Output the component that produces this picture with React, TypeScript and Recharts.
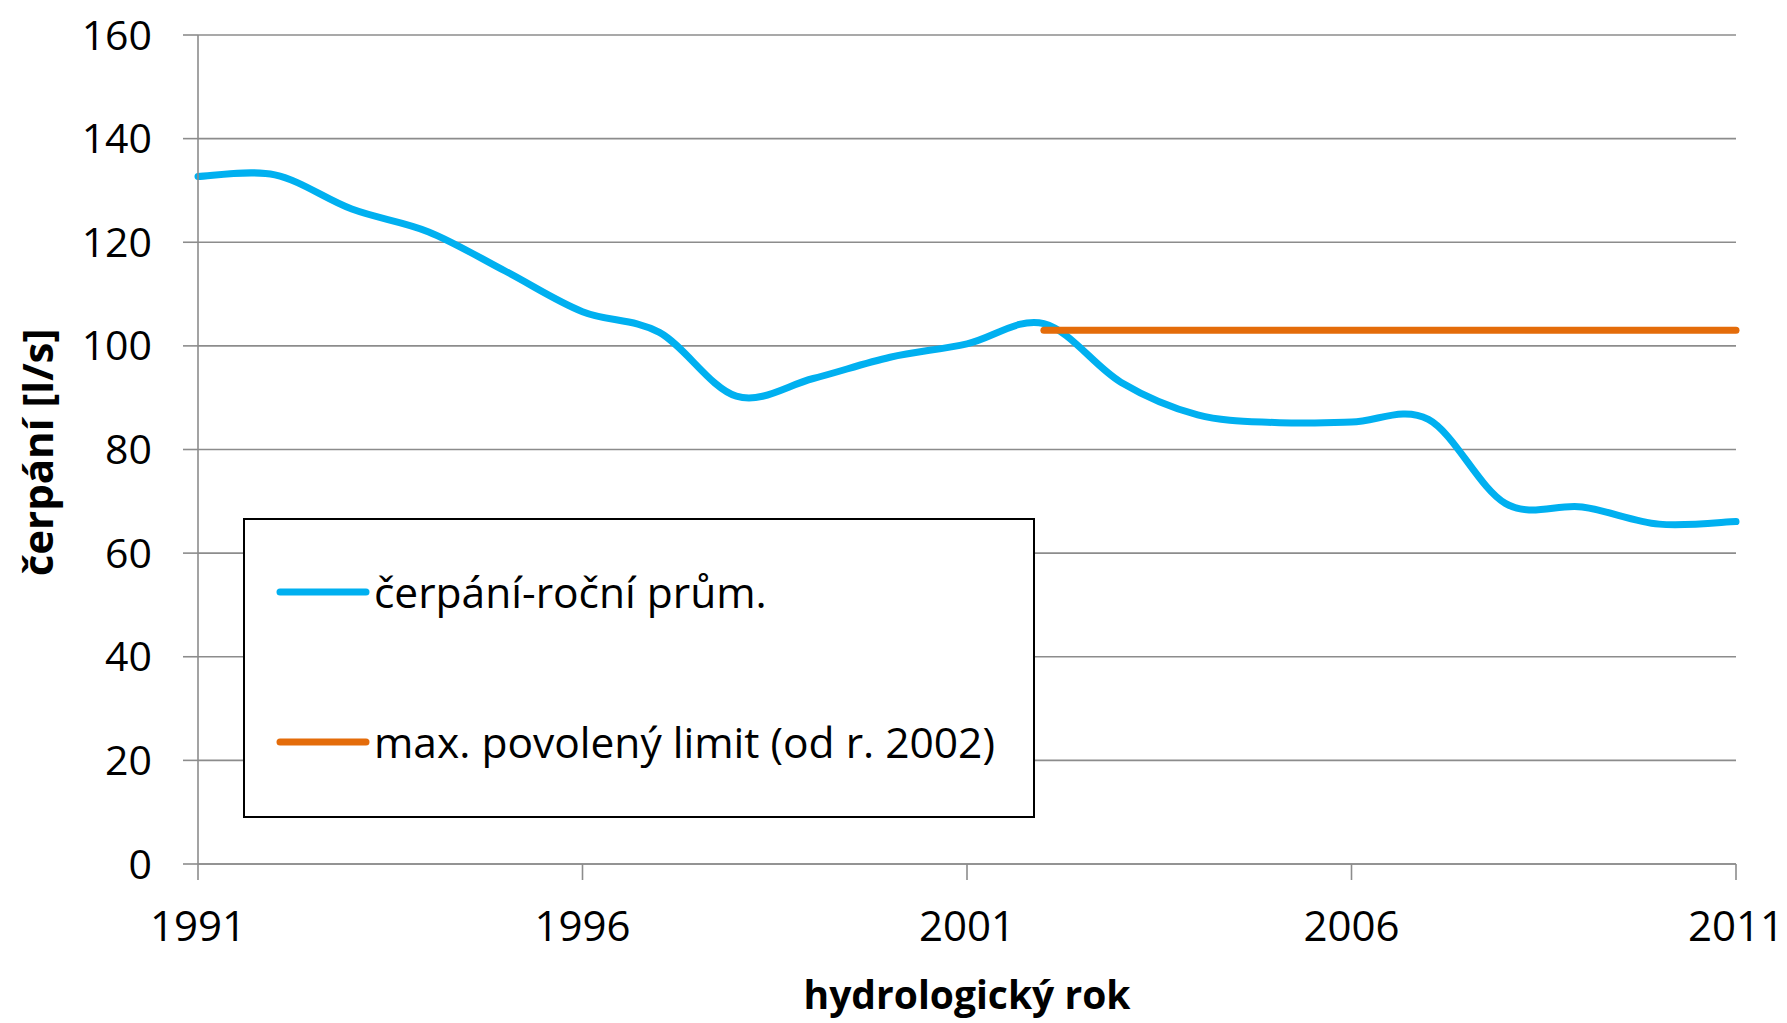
import React from 'react';
import { LineChart, Line, XAxis, YAxis, CartesianGrid, Legend, Label } from 'recharts';

const years = [1991, 1992, 1993, 1994, 1995, 1996, 1997, 1998, 1999, 2000, 2001, 2002, 2003, 2004, 2005, 2006, 2007, 2008, 2009, 2010, 2011];
const pumping = [132.7, 133.0, 126.4, 122.0, 114.4, 106.6, 102.6, 90.3, 93.7, 97.8, 100.4, 104.3, 93.0, 86.7, 85.2, 85.3, 85.8, 69.6, 68.9, 65.6, 66.1];
const limit = [null, null, null, null, null, null, null, null, null, null, null, 103, 103, 103, 103, 103, 103, 103, 103, 103, 103];
const xTicks = [1991, 1996, 2001, 2006, 2011];
const yTicks = [0, 20, 40, 60, 80, 100, 120, 140, 160];
const seriesNames = ['čerpání-roční prům.', 'max. povolený limit (od r. 2002)'];
const seriesColors = ['#00B0F0', '#E46C0A'];

const data = years.map((y, i) => ({ year: y, pumping: pumping[i], limit: limit[i] }));

const FONT = '"Open Sans", "Noto Sans", sans-serif';
const GRID = '#8C8C8C';

// Excel-like smoothed line (Catmull-Rom as cubic Bezier)
function excelCurve(context: any) {
  let pts: number[][] = [];
  return {
    areaStart() {},
    areaEnd() {},
    lineStart() { pts = []; },
    point(x: number, y: number) { pts.push([+x, +y]); },
    lineEnd() {
      const n = pts.length;
      if (!n) return;
      context.moveTo(pts[0][0], pts[0][1]);
      for (let i = 0; i < n - 1; i++) {
        const p0 = pts[i - 1] || pts[i];
        const p1 = pts[i];
        const p2 = pts[i + 1];
        const p3 = pts[i + 2] || p2;
        context.bezierCurveTo(
          p1[0] + (p2[0] - p0[0]) / 6, p1[1] + (p2[1] - p0[1]) / 6,
          p2[0] - (p3[0] - p1[0]) / 6, p2[1] - (p3[1] - p1[1]) / 6,
          p2[0], p2[1]
        );
      }
    },
  };
}

const renderLegend = () => (
  <div style={{ width: 792, height: 300, boxSizing: 'border-box', border: '2px solid #000', background: '#fff', position: 'relative', fontFamily: FONT }}>
    {seriesNames.map((name, i) => (
      <div key={name} style={{ position: 'absolute', left: 31, top: (i === 0 ? 72 : 222) - 30, height: 60, display: 'flex', alignItems: 'center' }}>
        <svg width={100} height={20} style={{ display: 'block' }}>
          <line x1={4} y1={10} x2={90} y2={10} stroke={seriesColors[i]} strokeWidth={7} strokeLinecap="round" />
        </svg>
        <span style={{ fontSize: 42.5, color: '#000', marginLeft: -2, whiteSpace: 'nowrap', lineHeight: '60px' }}>{name}</span>
      </div>
    ))}
  </div>
);

const XTitle = (props: any) => {
  const vb = props.viewBox;
  return (
    <text x={vb.x + vb.width / 2} y={vb.y + 145} textAnchor="middle" fontFamily={FONT} fontWeight="bold" fontSize={39} fill="#000">
      hydrologický rok
    </text>
  );
};

const YTitle = (props: any) => {
  const vb = props.viewBox;
  const cx = 53;
  const cy = vb.y + vb.height / 2 + 3;
  return (
    <text x={cx} y={cy} textAnchor="middle" fontFamily={FONT} fontWeight="bold" fontSize={42} fill="#000" transform={`rotate(-90, ${cx}, ${cy})`}>
      čerpání [l/s]
    </text>
  );
};

export default function App() {
  return (
    <div style={{ position: 'absolute', left: 0, top: 0, width: 1787, height: 1023, background: '#fff' }}>
      <LineChart width={1787} height={1023} data={data} margin={{ top: 35, right: 51, bottom: 0, left: 0 }}>
        <CartesianGrid horizontal={true} vertical={false} stroke={GRID} strokeWidth={1.6} />
        <XAxis
          dataKey="year"
          type="number"
          domain={[1991, 2011]}
          ticks={xTicks}
          interval={0}
          height={159}
          tickSize={16}
          tickMargin={31}
          axisLine={{ stroke: GRID, strokeWidth: 1.6 }}
          tickLine={{ stroke: GRID, strokeWidth: 1.6 }}
          tick={{ fontSize: 42, fill: '#000', fontFamily: FONT }}
        >
          <Label content={<XTitle />} />
        </XAxis>
        <YAxis
          type="number"
          domain={[0, 160]}
          ticks={yTicks}
          interval={0}
          width={198}
          tickSize={15}
          tickMargin={31}
          axisLine={{ stroke: GRID, strokeWidth: 1.6 }}
          tickLine={{ stroke: GRID, strokeWidth: 1.6 }}
          tick={{ fontSize: 41, fill: '#000', fontFamily: FONT }}
        >
          <Label content={<YTitle />} />
        </YAxis>
        <Legend
          layout="vertical"
          align="center"
          verticalAlign="middle"
          content={renderLegend}
          wrapperStyle={{ left: 243, top: 518, width: 792, height: 300 }}
        />
        <Line
          name={seriesNames[0]}
          dataKey="pumping"
          type={excelCurve as any}
          stroke={seriesColors[0]}
          strokeWidth={7}
          strokeLinecap="round"
          dot={false}
          activeDot={false}
          isAnimationActive={false}
        />
        <Line
          name={seriesNames[1]}
          dataKey="limit"
          type="linear"
          stroke={seriesColors[1]}
          strokeWidth={7}
          strokeLinecap="round"
          dot={false}
          activeDot={false}
          isAnimationActive={false}
        />
      </LineChart>
    </div>
  );
}
